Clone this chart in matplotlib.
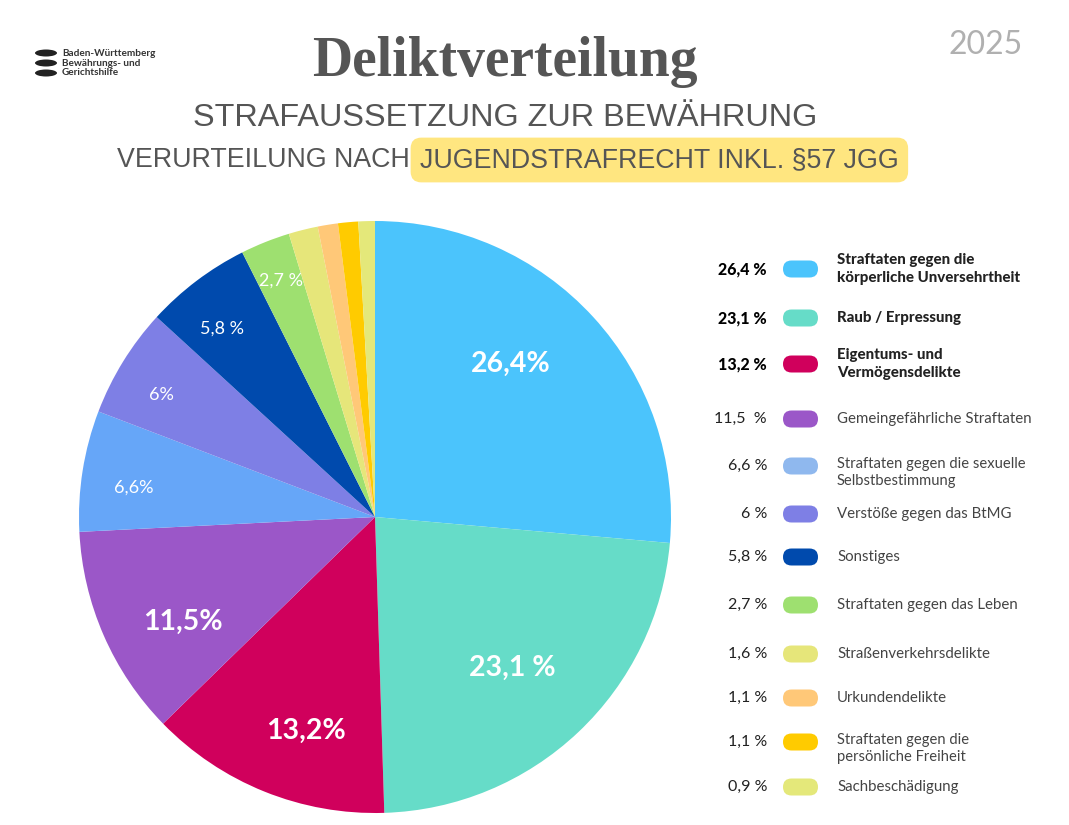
import numpy as np
import matplotlib
matplotlib.use("Agg")
import matplotlib.pyplot as plt
from matplotlib.patches import FancyBboxPatch, Ellipse

# data
shares = [26.4, 23.1, 13.2, 11.5, 6.6, 6.0, 5.8, 2.7, 1.6, 1.1, 1.1, 0.9]
pie_labels = ["26,4%", "23,1 %", "13,2%", "11,5%", "6,6%", "6%", "5,8 %", "2,7 %", "", "", "", ""]
legend_pct = ["26,4 %", "23,1 %", "13,2 %", "11,5  %", "6,6 %", "6 %", "5,8 %", "2,7 %",
              "1,6 %", "1,1 %", "1,1 %", "0,9 %"]
categories = ["Straftaten gegen die\nkörperliche Unversehrtheit", "Raub / Erpressung",
              "Eigentums- und\nVermögensdelikte", "Gemeingefährliche Straftaten",
              "Straftaten gegen die sexuelle\nSelbstbestimmung", "Verstöße gegen das BtMG",
              "Sonstiges", "Straftaten gegen das Leben", "Straßenverkehrsdelikte",
              "Urkundendelikte", "Straftaten gegen die\npersönliche Freiheit", "Sachbeschädigung"]
pie_colors = ["#4BC4FC", "#66DCC8", "#D0005C", "#9B57C8", "#66A6F8", "#7E7FE5",
              "#004AAD", "#9EE070", "#E6E67A", "#FFC878", "#FFCB00", "#E4E87A"]
legend_colors = ["#4BC4FC", "#66DCC8", "#D0005C", "#9B57C8", "#8FB8EE", "#7E7FE5",
                 "#004AAD", "#9EE070", "#E6E67A", "#FFC878", "#FFCB00", "#E4E87A"]
n_bold = 3

W, H = 1069, 825
fig = plt.figure(figsize=(W / 100, H / 100), dpi=100)
fig.patch.set_facecolor("white")

sans = ["Lato", "DejaVu Sans"]
narrow = ["Liberation Sans Narrow", "Liberation Sans", "DejaVu Sans"]

# pie
cx, cy, r = 375, 517, 296
ax = fig.add_axes([(cx - r) / W, (H - cy - r) / H, 2 * r / W, 2 * r / H])
wedges, _ = ax.pie(shares, colors=pie_colors, startangle=90, counterclock=False,
                   wedgeprops=dict(linewidth=0))
ax.set_xlim(-1, 1)
ax.set_ylim(-1, 1)
ax.set_aspect("equal")
ax.axis("off")

label_r = [0.69, 0.69, 0.76, 0.74, 0.82, 0.83, 0.82, 0.86]
angle_nudge = [6, -1, 4, 5, 2, 2, 2, 0]
for i, w in enumerate(wedges):
    if not pie_labels[i]:
        continue
    mid = np.deg2rad((w.theta1 + w.theta2) / 2 + angle_nudge[i])
    big = i < 4
    ax.text(label_r[i] * np.cos(mid), label_r[i] * np.sin(mid), pie_labels[i],
            ha="center", va="center", color="white",
            fontsize=20.5 if big else 13, fontweight="bold" if big else "normal",
            family=sans)

# legend
row_y = [269, 318, 364, 419, 466, 514, 557, 605, 654, 698, 742, 787]
for i, (pct, cat, col) in enumerate(zip(legend_pct, categories, legend_colors)):
    y = 1 - row_y[i] / H
    bold = i < n_bold
    fig.text(767 / W, y, pct, ha="right", va="center", family=sans,
             fontsize=11.5, fontweight="black" if bold else "normal",
             color="black" if bold else "#222222")
    fig.patches.append(FancyBboxPatch((783 / W, y - 8.5 / H), 35 / W, 17 / H,
                                      boxstyle="round,pad=0,rounding_size=0.008",
                                      transform=fig.transFigure, fc=col, ec="none",
                                      mutation_aspect=W / H))
    two = "\n" in cat
    if bold or not two:
        fig.text(837 / W, y, cat, ha="left", va="center", family=sans,
                 fontsize=10.8, fontweight="black" if bold else "normal",
                 color="#222222" if bold else "#444444", linespacing=1.3)
    else:
        fig.text(837 / W, y + 9 / H, cat, ha="left", va="top", family=sans,
                 fontsize=10.6, color="#444444", linespacing=1.3)

# headings
fig.text(505 / W, 1 - 62 / H, "Deliktverteilung", ha="center", va="center",
         family=["Liberation Serif", "DejaVu Serif"], fontweight="bold",
         fontsize=40, color="#555555")
fig.text(505 / W, 1 - 118 / H, "STRAFAUSSETZUNG ZUR BEWÄHRUNG", ha="center", va="center",
         family=narrow, fontsize=23.3, color="#555555")
fig.text(410 / W, 1 - 160 / H, "VERURTEILUNG NACH", ha="right", va="center",
         family=narrow, fontsize=19.3, color="#555555")
fig.text(420 / W, 1 - 160 / H, "JUGENDSTRAFRECHT INKL. §57 JGG", ha="left", va="center",
         family=narrow, fontsize=19.3, color="#555555",
         bbox=dict(boxstyle="round,pad=0.35,rounding_size=0.4", fc="#FFE680", ec="none"))
fig.text(986 / W, 1 - 45 / H, "2025", ha="center", va="center", family=sans,
         fontsize=23, color="#b0b0b0")

# logo
for k, ly in enumerate([53, 63, 73]):
    fig.patches.append(Ellipse((46 / W, 1 - ly / H), 22 / W, 7 / H,
                               transform=fig.transFigure, fc="#222222", ec="none"))
fig.text(62 / W, 1 - 63 / H, "Baden-Württemberg\nBewährungs- und\nGerichtshilfe",
         ha="left", va="center", family=sans, fontsize=7.2, fontweight="bold",
         color="#333333", linespacing=1.05)

fig.savefig("out.png", dpi=100, facecolor="white")
